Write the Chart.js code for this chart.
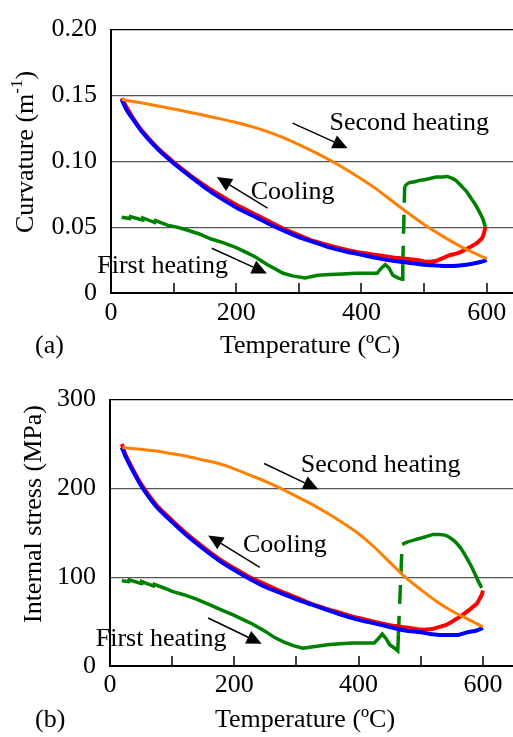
<!DOCTYPE html>
<html lang="en">
<head>
<meta charset="UTF-8">
<title>Curvature and internal stress vs temperature</title>
<script src="https://cdn.jsdelivr.net/npm/chart.js"></script>
<style>
  body { margin: 0; background: #fff; overflow: hidden; width: 513px; height: 737px; }
  .panel { position: absolute; left: 0; }
</style>
</head>
<body>
<div class="panel" style="top:0"><canvas id="chartA" width="520" height="370"></canvas></div>
<div class="panel" style="top:370px"><canvas id="chartB" width="520" height="367"></canvas></div>
<script>
// ---- panel (a): curvature (1/m) ----
const tempFirstA  = [17, 30, 31, 50, 51, 70, 71, 90, 105, 120, 140, 160, 180, 200, 215, 230, 250, 275, 290, 310, 330, 350, 370, 390, 410, 425, 432, 438, 444, 450, 458, 465, 466];
const curvFirstA  = [0.0575, 0.0565, 0.058, 0.0555, 0.057, 0.0535, 0.055, 0.0515, 0.050, 0.048, 0.045, 0.041, 0.038, 0.0345, 0.031, 0.0275, 0.0215, 0.015, 0.013, 0.0115, 0.0135, 0.014, 0.0145, 0.015, 0.015, 0.015, 0.019, 0.0215, 0.019, 0.0135, 0.0115, 0.0105, 0.0215];
const tempJumpA   = [466, 469];
const curvJumpA   = [0.0215, 0.081];
const tempFirst2A = [469, 475, 485, 493, 500, 510, 520, 530, 537, 545, 552, 560, 568, 575, 582, 589, 594, 598];
const curvFirst2A = [0.081, 0.0835, 0.0845, 0.0855, 0.086, 0.087, 0.088, 0.088, 0.0885, 0.087, 0.085, 0.081, 0.077, 0.072, 0.067, 0.061, 0.056, 0.050];
const tempCoolA   = [598, 596, 593, 588, 583, 576, 570, 562, 555, 548, 540, 530, 520, 510, 500, 490, 480, 470, 460, 450, 430, 400, 370, 350, 320, 300, 275, 250, 225, 200, 175, 150, 125, 100, 75, 50, 35, 25, 17];
const curvCoolA   = [0.050, 0.046, 0.042, 0.0395, 0.0375, 0.0355, 0.034, 0.032, 0.0305, 0.0295, 0.0285, 0.0265, 0.0245, 0.0238, 0.024, 0.025, 0.0255, 0.026, 0.0265, 0.027, 0.0285, 0.0305, 0.0335, 0.036, 0.040, 0.044, 0.049, 0.055, 0.061, 0.067, 0.074, 0.0815, 0.090, 0.0995, 0.110, 0.123, 0.133, 0.141, 0.148];
const tempCool2A  = [600, 590, 575, 560, 545, 530, 515, 500, 475, 450, 425, 400, 375, 350, 325, 300, 275, 250, 225, 200, 175, 150, 125, 100, 75, 50, 35, 25, 17];
const curvCool2A  = [0.025, 0.0235, 0.022, 0.021, 0.0205, 0.0205, 0.021, 0.0215, 0.023, 0.0245, 0.0265, 0.029, 0.0315, 0.0345, 0.0385, 0.0425, 0.0475, 0.053, 0.059, 0.065, 0.072, 0.080, 0.089, 0.0985, 0.109, 0.122, 0.132, 0.139, 0.147];
const tempSecondA = [17, 30, 50, 75, 100, 125, 150, 175, 200, 225, 250, 275, 300, 325, 350, 375, 400, 425, 450, 475, 500, 525, 550, 575, 600];
const curvSecondA = [0.147, 0.1458, 0.1442, 0.142, 0.1397, 0.1373, 0.1348, 0.1322, 0.1295, 0.1263, 0.1225, 0.118, 0.1127, 0.107, 0.1008, 0.094, 0.0865, 0.0785, 0.0695, 0.0605, 0.052, 0.0445, 0.0375, 0.0315, 0.026];
const curvTicksA  = [0, 0.05, 0.10, 0.15, 0.20];

// ---- panel (b): internal stress (MPa) ----
const tempFirstB  = [19, 30, 31, 50, 51, 70, 71, 90, 100, 120, 140, 160, 180, 200, 215, 230, 250, 265, 280, 295, 310, 330, 350, 370, 390, 410, 425, 432, 438, 444, 450, 458, 463, 464];
const stressFirstB  = [96, 95, 97, 93, 95, 90, 92, 87, 84, 80, 75, 69, 63, 57, 52, 47, 39, 32, 27, 23, 20, 22, 24, 25, 26, 26, 26, 31, 36, 31, 24, 20, 17, 35];
const tempJumpB   = [464, 470];
const stressJumpB = [35, 137];
const tempFirst2B = [470, 480, 490, 500, 510, 520, 530, 540, 550, 558, 565, 572, 580, 587, 593, 598];
const stressFirst2B = [137, 140, 142, 144, 146, 148, 148, 147, 143, 138, 132, 124, 114, 104, 95, 88];
const tempCoolB   = [600, 598, 595, 590, 583, 576, 570, 562, 555, 548, 540, 530, 520, 510, 500, 490, 480, 470, 460, 450, 430, 400, 370, 350, 320, 300, 275, 250, 225, 200, 175, 150, 125, 100, 75, 50, 35, 25, 19];
const stressCoolB = [85, 80, 76, 70, 66, 62, 59, 55, 52, 49, 46, 44, 42, 41, 41, 42, 43, 44, 45, 46, 49, 54, 60, 64, 71, 77, 84, 92, 100, 110, 121, 134, 148, 164, 181, 205, 224, 238, 250];
const tempCool2B  = [600, 590, 575, 560, 545, 530, 515, 500, 475, 450, 425, 400, 375, 350, 325, 300, 275, 250, 225, 200, 175, 150, 125, 100, 75, 50, 35, 25, 19];
const stressCool2B = [43, 40, 38, 35, 35, 35, 36, 38, 40, 44, 48, 52, 57, 63, 69, 75, 82, 89, 98, 108, 119, 132, 146, 162, 179, 203, 222, 236, 246];
const tempSecondB = [20, 50, 75, 100, 125, 150, 175, 200, 225, 250, 275, 300, 325, 350, 375, 400, 425, 450, 475, 500, 525, 550, 575, 600];
const stressSecondB = [246, 244, 242, 239, 236, 232, 228, 222, 215, 208, 200, 191, 182, 172, 161, 149, 134, 117, 100, 86, 73, 62, 53, 44];
const stressTicksB = [0, 100, 200, 300];

const tempLabels = [0, 200, 400, 600];

const FONT = '"Liberation Serif", "Times New Roman", serif';

function pts(xs, ys) {
  return xs.map((x, i) => ({ x: x, y: ys[i] }));
}

function line(xs, ys, color, width, dash, tension) {
  return {
    data: pts(xs, ys),
    borderColor: color,
    borderWidth: width,
    borderDash: dash || [],
    pointRadius: 0,
    fill: false,
    tension: tension || 0
  };
}

function arrow(ctx, x0, y0, x1, y1) {
  const a = Math.atan2(y1 - y0, x1 - x0), len = 15, half = 7;
  const bx = x1 - len * Math.cos(a), by = y1 - len * Math.sin(a);
  ctx.lineWidth = 1.5;
  ctx.beginPath(); ctx.moveTo(x0, y0); ctx.lineTo(bx, by); ctx.stroke();
  ctx.beginPath();
  ctx.moveTo(x1, y1);
  ctx.lineTo(bx + half * Math.sin(a), by - half * Math.cos(a));
  ctx.lineTo(bx - half * Math.sin(a), by + half * Math.cos(a));
  ctx.closePath(); ctx.fill();
}

// inner x ticks, curve labels with arrows, axis titles
const decorations = {
  id: 'decorations',
  afterDraw(chart, args, o) {
    const ctx = chart.ctx, xs = chart.scales.x, ys = chart.scales.y, area = chart.chartArea;
    ctx.save();
    ctx.strokeStyle = '#000';
    ctx.fillStyle = '#000';
    ctx.lineWidth = 1.5;
    for (let t = 100; t <= 600; t += 100) {
      const px = Math.round(xs.getPixelForValue(t));
      ctx.beginPath(); ctx.moveTo(px, area.bottom); ctx.lineTo(px, area.bottom - 10); ctx.stroke();
    }
    ctx.font = '26px ' + FONT;
    ctx.textAlign = 'left';
    ctx.textBaseline = 'alphabetic';
    o.notes.forEach(n => {
      ctx.fillText(n.text, xs.getPixelForValue(n.at[0]), ys.getPixelForValue(n.at[1]));
      arrow(ctx, xs.getPixelForValue(n.from[0]), ys.getPixelForValue(n.from[1]),
                 xs.getPixelForValue(n.to[0]), ys.getPixelForValue(n.to[1]));
    });
    ctx.textAlign = 'center';
    ctx.fillText('Temperature (ºC)', o.xTitle[0], o.xTitle[1]);
    ctx.textAlign = 'left';
    ctx.fillText(o.tag, 35, o.xTitle[1]);

    // rotated y title, with optional superscript part
    ctx.translate(o.yTitle[0], o.yTitle[1]);
    ctx.rotate(-Math.PI / 2);
    ctx.textBaseline = 'middle';
    let w = 0;
    o.yParts.forEach(p => {
      ctx.font = (p.sup ? '17px ' : '26px ') + FONT;
      w += ctx.measureText(p.t).width;
    });
    let x = -w / 2;
    o.yParts.forEach(p => {
      ctx.font = (p.sup ? '17px ' : '26px ') + FONT;
      ctx.fillText(p.t, x, p.sup ? -8 : 0);
      x += ctx.measureText(p.t).width;
    });
    ctx.restore();
  }
};

function makePanel(id, cfg) {
  return new Chart(document.getElementById(id), {
    type: 'line',
    data: {
      datasets: [
        line(cfg.second[0], cfg.second[1], '#ff7f00', 3, null, 0.3),
        line(cfg.cool2[0], cfg.cool2[1], '#0000ff', 4, null, 0.25),
        line(cfg.cool[0], cfg.cool[1], '#ff0000', 4, null, 0.15),
        line(cfg.jump[0], cfg.jump[1], '#008000', 3.5, [19, 12]),
        line(cfg.first[0], cfg.first[1], '#008000', 3.5),
        line(cfg.first2[0], cfg.first2[1], '#008000', 3.5, null, 0.2)
      ]
    },
    options: {
      responsive: false,
      animation: false,
      events: [],
      layout: { padding: { top: cfg.padTop, right: cfg.padRight, left: 0, bottom: 0 } },
      plugins: {
        legend: { display: false },
        tooltip: { enabled: false },
        decorations: cfg.deco
      },
      scales: {
        x: {
          type: 'linear',
          min: 0,
          max: 650,
          afterBuildTicks: s => { s.ticks = [0, 100, 200, 300, 400, 500, 600].map(v => ({ value: v })); },
          ticks: {
            color: '#000',
            font: { family: FONT, size: 26 },
            padding: cfg.xPad,
            autoSkip: false,
            maxRotation: 0,
            callback: v => tempLabels.includes(v) ? String(v) : ''
          },
          grid: { drawOnChartArea: false, drawTicks: false },
          border: { color: '#000', width: 2 },
          afterFit: s => { s.height = cfg.xHeight; }
        },
        y: {
          min: cfg.yTicks[0],
          max: cfg.yTicks[cfg.yTicks.length - 1],
          afterBuildTicks: s => { s.ticks = cfg.yTicks.map(v => ({ value: v })); },
          ticks: {
            color: '#000',
            font: { family: FONT, size: 26 },
            padding: 14,
            callback: cfg.yFormat
          },
          grid: {
            drawTicks: false,
            lineWidth: 1.2,
            color: c => c.tick.value === cfg.yTicks[0] ? 'rgba(0,0,0,0)'
              : (c.tick.value === cfg.yTicks[cfg.yTicks.length - 1] ? '#000' : '#555')
          },
          border: { color: '#000', width: 2 },
          afterFit: s => { s.width = cfg.yWidth; }
        }
      }
    },
    plugins: [decorations]
  });
}

makePanel('chartA', {
  second: [tempSecondA, curvSecondA],
  cool2: [tempCool2A, curvCool2A],
  cool: [tempCoolA, curvCoolA],
  jump: [tempJumpA, curvJumpA],
  first: [tempFirstA, curvFirstA],
  first2: [tempFirst2A, curvFirst2A],
  yTicks: curvTicksA,
  yFormat: v => v === 0 ? '0' : v.toFixed(2),
  padTop: 11, padRight: 2, xHeight: 77, yWidth: 111, xPad: 5,
  deco: {
    tag: '(a)',
    xTitle: [310, 353],
    yTitle: [26, 152],
    yParts: [{ t: 'Curvature (m' }, { t: '-1', sup: true }, { t: ')' }],
    notes: [
      { text: 'Second heating', at: [349, 0.1234], from: [290, 0.129], to: [378, 0.110] },
      { text: 'Cooling', at: [223, 0.0716], from: [250, 0.0645], to: [169, 0.088] },
      { text: 'First heating', at: [-22, 0.0149], from: [161, 0.034], to: [249, 0.0149] }
    ]
  }
});

makePanel('chartB', {
  second: [tempSecondB, stressSecondB],
  cool2: [tempCool2B, stressCool2B],
  cool: [tempCoolB, stressCoolB],
  jump: [tempJumpB, stressJumpB],
  first: [tempFirstB, stressFirstB],
  first2: [tempFirst2B, stressFirst2B],
  yTicks: stressTicksB,
  yFormat: v => String(v),
  padTop: 13, padRight: 6, xHeight: 71, yWidth: 110, xPad: 4,
  deco: {
    tag: '(b)',
    xTitle: [305, 357],
    yTitle: [34, 144],
    yParts: [{ t: 'Internal stress (MPa)' }],
    notes: [
      { text: 'Second heating', at: [307, 219], from: [248, 228], to: [335, 199] },
      { text: 'Cooling', at: [214, 128], from: [241, 111], to: [158, 147] },
      { text: 'First heating', at: [-23, 22], from: [158, 54], to: [244, 25] }
    ]
  }
});
</script>
</body>
</html>
